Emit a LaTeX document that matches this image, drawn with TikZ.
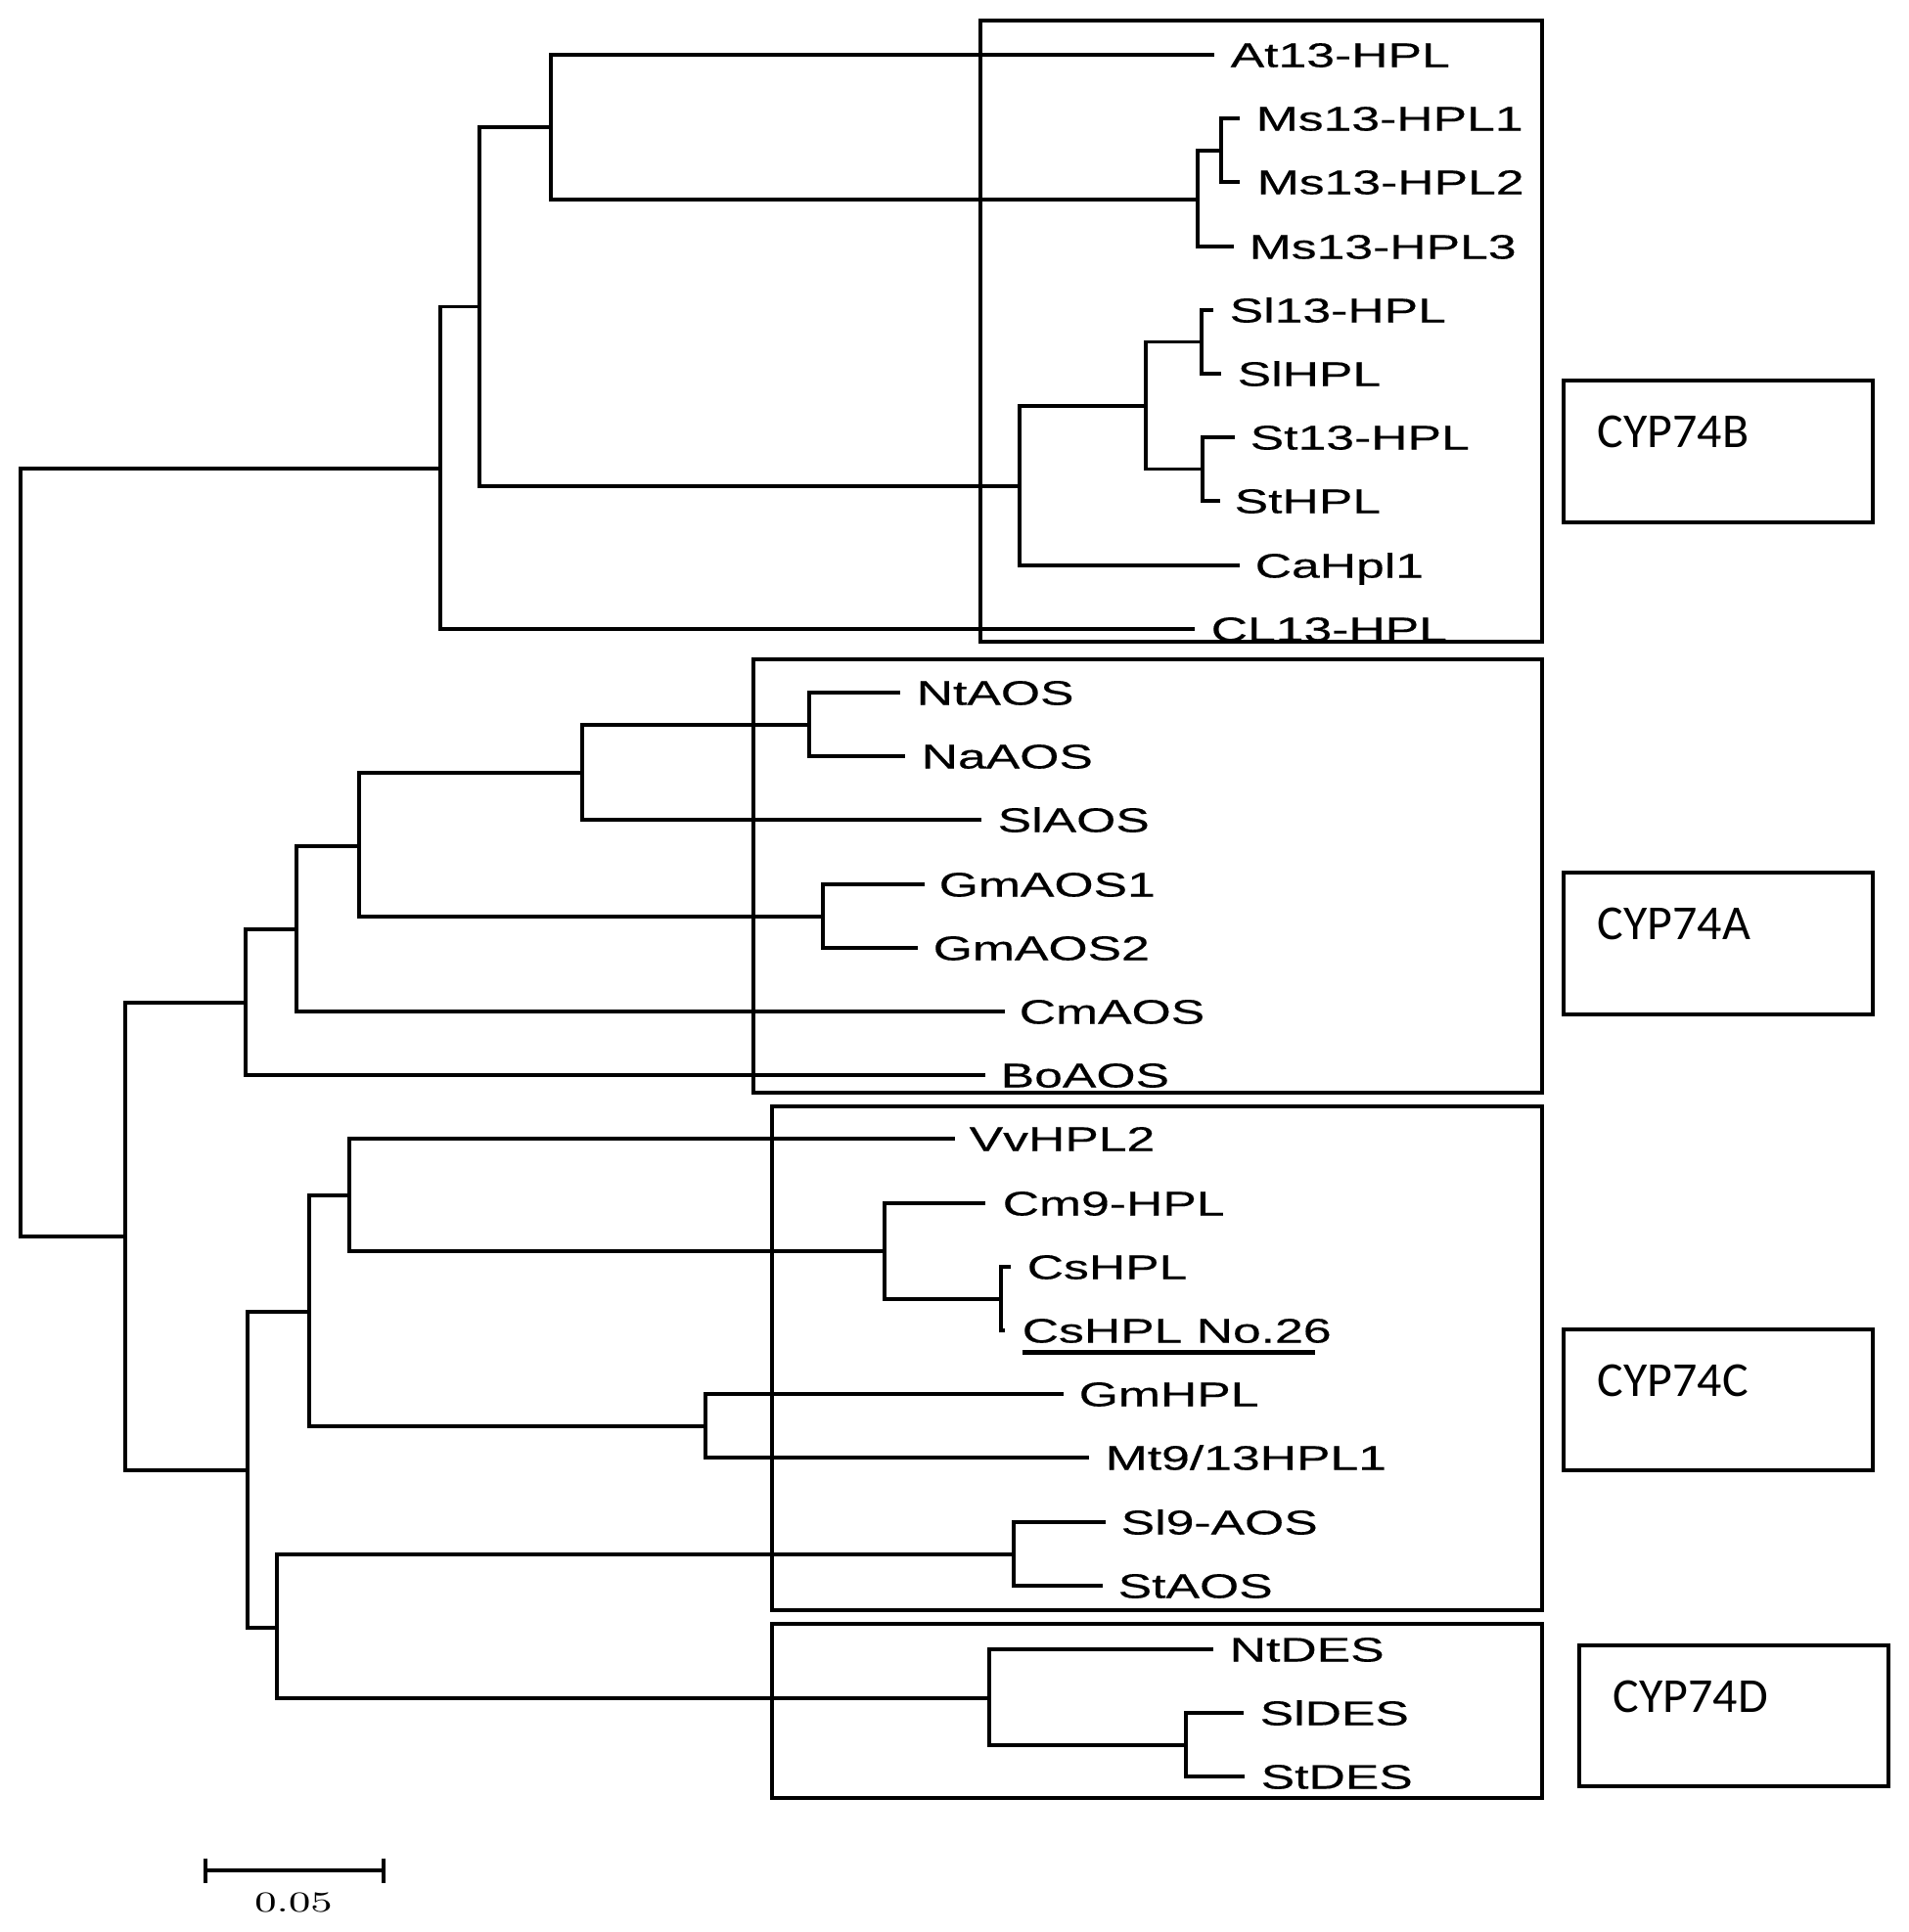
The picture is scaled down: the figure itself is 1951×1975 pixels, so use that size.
\documentclass[tikz,border=0pt]{standalone}
\usepackage{fontspec}
\newfontfamily\leaffont[FakeStretch=1.48,FakeBold=0.4]{Liberation Sans}
\newfontfamily\cypfont{Carlito}
\begin{document}
\begin{tikzpicture}[x=0.01cm,y=-0.01cm,
  branch/.style={line width=0.9pt},
  clade/.style={line width=1pt},
  leaf/.style={anchor=base west,inner sep=0pt,font=\leaffont\fontsize{9.93}{12}\selectfont},
  cyp/.style={anchor=base west,inner sep=0pt,font=\cypfont\fontsize{14.2}{16}\selectfont}]
\useasboundingbox (0,0) rectangle (1951,1975);
% internal nodes
\coordinate (root) at (21,871.5);
\coordinate (nA) at (450,479);
\coordinate (nB) at (490,313.5);
\coordinate (nC) at (563,130);
\coordinate (nMs) at (1224,204);
\coordinate (nMs12) at (1248,154);
\coordinate (nD) at (1042,497);
\coordinate (nE) at (1171,415);
\coordinate (nF) at (1228,349.5);
\coordinate (nG) at (1229,479.5);
\coordinate (nH) at (128,1264);
\coordinate (nI) at (251,1025);
\coordinate (nJ) at (303,950);
\coordinate (nK) at (367,865);
\coordinate (nL) at (595,790);
\coordinate (nM) at (827,741);
\coordinate (nN) at (841,937);
\coordinate (nR) at (253,1503);
\coordinate (nP) at (316,1341);
\coordinate (nO) at (357,1222);
\coordinate (nQ) at (904,1279);
\coordinate (nCs) at (1023,1328);
\coordinate (nS) at (721,1458);
\coordinate (nT) at (283,1664);
\coordinate (nU) at (1036,1589);
\coordinate (nV) at (1011,1736);
\coordinate (nW) at (1212,1784);
% leaf ends
\coordinate (l0) at (1241,56);
\coordinate (l1) at (1267,121);
\coordinate (l2) at (1267,186);
\coordinate (l3) at (1261,252);
\coordinate (l4) at (1240,317);
\coordinate (l5) at (1248,382);
\coordinate (l6) at (1262,447);
\coordinate (l7) at (1247,512);
\coordinate (l8) at (1267,578);
\coordinate (l9) at (1221,643);
\coordinate (l10) at (920,708);
\coordinate (l11) at (925,773);
\coordinate (l12) at (1003,838);
\coordinate (l13) at (945,904);
\coordinate (l14) at (938,969);
\coordinate (l15) at (1027,1034);
\coordinate (l16) at (1007,1099);
\coordinate (l17) at (976,1164);
\coordinate (l18) at (1007,1230);
\coordinate (l19) at (1033,1295);
\coordinate (l20) at (1027,1360);
\coordinate (l21) at (1087,1425);
\coordinate (l22) at (1113,1490);
\coordinate (l23) at (1130,1556);
\coordinate (l24) at (1127,1621);
\coordinate (l25) at (1240,1686);
\coordinate (l26) at (1271,1751);
\coordinate (l27) at (1272,1816);
% branches
\draw[branch] (root) |- (nA);
\draw[branch] (root) |- (nH);
\draw[branch] (nA) |- (nB);
\draw[branch] (nA) |- (l9);
\draw[branch] (nB) |- (nC);
\draw[branch] (nB) |- (nD);
\draw[branch] (nC) |- (l0);
\draw[branch] (nC) |- (nMs);
\draw[branch] (nMs) |- (nMs12);
\draw[branch] (nMs) |- (l3);
\draw[branch] (nMs12) |- (l1);
\draw[branch] (nMs12) |- (l2);
\draw[branch] (nD) |- (nE);
\draw[branch] (nD) |- (l8);
\draw[branch] (nE) |- (nF);
\draw[branch] (nE) |- (nG);
\draw[branch] (nF) |- (l4);
\draw[branch] (nF) |- (l5);
\draw[branch] (nG) |- (l6);
\draw[branch] (nG) |- (l7);
\draw[branch] (nH) |- (nI);
\draw[branch] (nH) |- (nR);
\draw[branch] (nI) |- (nJ);
\draw[branch] (nI) |- (l16);
\draw[branch] (nJ) |- (nK);
\draw[branch] (nJ) |- (l15);
\draw[branch] (nK) |- (nL);
\draw[branch] (nK) |- (nN);
\draw[branch] (nL) |- (nM);
\draw[branch] (nL) |- (l12);
\draw[branch] (nM) |- (l10);
\draw[branch] (nM) |- (l11);
\draw[branch] (nN) |- (l13);
\draw[branch] (nN) |- (l14);
\draw[branch] (nR) |- (nP);
\draw[branch] (nR) |- (nT);
\draw[branch] (nP) |- (nO);
\draw[branch] (nP) |- (nS);
\draw[branch] (nO) |- (l17);
\draw[branch] (nO) |- (nQ);
\draw[branch] (nQ) |- (l18);
\draw[branch] (nQ) |- (nCs);
\draw[branch] (nCs) |- (l19);
\draw[branch] (nCs) |- (l20);
\draw[branch] (nS) |- (l21);
\draw[branch] (nS) |- (l22);
\draw[branch] (nT) |- (nU);
\draw[branch] (nT) |- (nV);
\draw[branch] (nU) |- (l23);
\draw[branch] (nU) |- (l24);
\draw[branch] (nV) |- (l25);
\draw[branch] (nV) |- (nW);
\draw[branch] (nW) |- (l26);
\draw[branch] (nW) |- (l27);
% labels
\node[leaf] (t0) at (1257,68.5) {At13-HPL};
\node[leaf] (t1) at (1283,133.5) {Ms13-HPL1};
\node[leaf] (t2) at (1284,198.5) {Ms13-HPL2};
\node[leaf] (t3) at (1276,264.5) {Ms13-HPL3};
\node[leaf] (t4) at (1256,329.5) {Sl13-HPL};
\node[leaf] (t5) at (1264,394.5) {SlHPL};
\node[leaf] (t6) at (1277,459.5) {St13-HPL};
\node[leaf] (t7) at (1261,524.5) {StHPL};
\node[leaf] (t8) at (1282,590.5) {CaHpl1};
\node[leaf] (t9) at (1237,655.5) {CL13-HPL};
\node[leaf] (t10) at (936,720.5) {NtAOS};
\node[leaf] (t11) at (941,785.5) {NaAOS};
\node[leaf] (t12) at (1019,850.5) {SlAOS};
\node[leaf] (t13) at (959,916.5) {GmAOS1};
\node[leaf] (t14) at (953,981.5) {GmAOS2};
\node[leaf] (t15) at (1041,1046.5) {CmAOS};
\node[leaf] (t16) at (1022,1111.5) {BoAOS};
\node[leaf] (t17) at (990,1176.5) {VvHPL2};
\node[leaf] (t18) at (1024,1242.5) {Cm9-HPL};
\node[leaf] (t19) at (1049,1307.5) {CsHPL};
\node[leaf] (t20) at (1044,1372.5) {CsHPL No.26};
\node[leaf] (t21) at (1102,1437.5) {GmHPL};
\node[leaf] (t22) at (1129,1502.5) {Mt9/13HPL1};
\node[leaf] (t23) at (1145,1568.5) {Sl9-AOS};
\node[leaf] (t24) at (1142,1633.5) {StAOS};
\node[leaf] (t25) at (1256,1698.5) {NtDES};
\node[leaf] (t26) at (1287,1763.5) {SlDES};
\node[leaf] (t27) at (1288,1828.5) {StDES};
% underline
\coordinate (u1) at (1045,1382.5);
\coordinate (u2) at (1344,1382.5);
\draw[line width=1.42pt] (u1) -- (u2);
% clade boxes
\draw[clade] (1002,21) rectangle (1576,656);
\draw[clade] (770,674) rectangle (1576,1117);
\draw[clade] (789,1131) rectangle (1576,1646);
\draw[clade] (789,1660) rectangle (1576,1838);
% family label boxes
\draw[clade] (1598,389) rectangle (1914,534);
\node[cyp] (cB) at (1632,457) {CYP74B};
\draw[clade] (1598,892) rectangle (1914,1037);
\node[cyp] (cA) at (1632,960) {CYP74A};
\draw[clade] (1598,1359) rectangle (1914,1503);
\node[cyp] (cC) at (1632,1427) {CYP74C};
\draw[clade] (1614,1682) rectangle (1930,1826);
\node[cyp] (cD) at (1648,1750) {CYP74D};
% scale bar
\coordinate (sb1) at (210,1912);
\coordinate (sb2) at (392,1912);
\draw[line width=0.95pt] (sb1) -- (sb2);
\draw[line width=0.95pt] ([yshift=0.125cm]sb1) -- ([yshift=-0.125cm]sb1);
\draw[line width=0.95pt] ([yshift=0.125cm]sb2) -- ([yshift=-0.125cm]sb2);
\node[anchor=base,inner sep=0pt,font=\fontsize{8.4}{10}\selectfont] (sbl) at (300,1954) {\scalebox{1.42}[1]{0.05}};
\end{tikzpicture}
\end{document}
